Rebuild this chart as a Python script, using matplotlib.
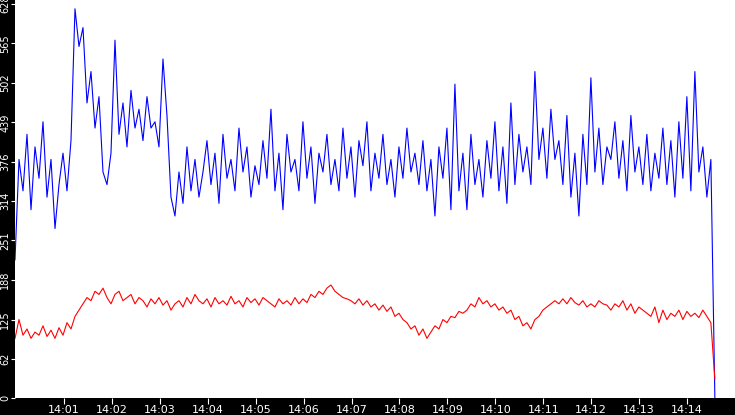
import matplotlib
matplotlib.use("Agg")
import matplotlib.pyplot as plt
import numpy as np

blue = [220, 380, 330, 420, 300, 400, 350, 440, 320, 380, 270, 340, 390, 330, 410, 620,
        560, 590, 470, 520, 430, 480, 360, 340, 390, 570, 420, 470, 400, 490, 430, 460,
        410, 480, 430, 440, 400, 540, 450, 320, 290, 360, 310, 400, 330, 380, 320, 360,
        410, 340, 390, 310, 420, 350, 380, 330, 430, 360, 400, 320, 370, 340, 410, 350,
        460, 330, 390, 300, 420, 360, 380, 330, 440, 350, 400, 310, 390, 360, 420, 340,
        380, 330, 430, 350, 400, 320, 410, 370, 440, 330, 390, 350, 420, 340, 380, 320,
        400, 350, 430, 360, 390, 340, 410, 330, 380, 290, 400, 350, 430, 300, 500, 330,
        390, 300, 420, 340, 380, 320, 410, 350, 440, 330, 400, 310, 470, 340, 420, 360,
        400, 340, 520, 380, 430, 350, 460, 380, 410, 340, 450, 320, 390, 290, 420, 340,
        510, 360, 430, 340, 400, 380, 440, 350, 410, 330, 450, 360, 400, 340, 420, 330,
        390, 350, 430, 340, 410, 320, 440, 350, 480, 330, 520, 360, 400, 320, 380, 0]

red = [95, 125, 100, 110, 95, 105, 100, 115, 98, 108, 95, 112, 100, 120, 110, 130,
       140, 150, 160, 155, 170, 165, 175, 160, 150, 165, 170, 155, 160, 165, 150, 160,
       155, 145, 158, 150, 160, 148, 155, 140, 150, 155, 145, 160, 150, 165, 155, 150,
       158, 145, 160, 150, 155, 148, 162, 150, 155, 145, 160, 152, 158, 148, 160, 155,
       150, 145, 158, 150, 155, 148, 160, 150, 158, 152, 165, 160, 170, 165, 175, 180,
       170, 165, 160, 158, 155, 150, 158, 148, 155, 145, 150, 140, 148, 138, 145, 130,
       135, 125, 120, 110, 115, 100, 110, 95, 105, 115, 110, 125, 120, 130, 128, 138,
       135, 140, 150, 145, 160, 150, 155, 145, 150, 140, 145, 135, 140, 125, 130, 115,
       120, 110, 125, 130, 140, 145, 150, 155, 150, 158, 150, 160, 152, 148, 155, 145,
       150, 145, 155, 150, 148, 140, 150, 145, 155, 140, 150, 135, 145, 140, 135, 130,
       145, 120, 140, 125, 135, 130, 140, 125, 138, 130, 135, 128, 140, 130, 120, 30]

tick_labels = ["14:01", "14:02", "14:03", "14:04", "14:05", "14:06", "14:07",
               "14:08", "14:09", "14:10", "14:11", "14:12", "14:13", "14:14"]
y_ticks = [0, 62, 125, 188, 251, 314, 376, 439, 502, 565, 628]

fig = plt.figure(figsize=(7.35, 4.15), dpi=100, facecolor="black")
ax = fig.add_axes([15/735, 17/415, 720/735, 398/415])
ax.set_facecolor("white")

t0, t1 = -1.02, 13.58
ax.plot(np.linspace(t0, t1, len(blue)), blue, color="#0000ff", lw=0.8)
ax.plot(np.linspace(t0, t1, len(red)), red, color="#ff0000", lw=0.8)

ax.set_xlim(-1.02, 14.0)
ax.set_ylim(0, 634)
ax.set_xticks(range(len(tick_labels)))
ax.set_xticklabels(tick_labels, color="white", fontsize=8)
ax.set_yticks(y_ticks)
ax.set_yticklabels([str(v) for v in y_ticks], color="white", fontsize=7, rotation=90, va="center")
ax.tick_params(axis="x", colors="white", length=4, pad=1)
ax.tick_params(axis="y", colors="white", length=3, pad=0.5)
for s in ax.spines.values():
    s.set_visible(False)
fig.savefig("out.png", dpi=100, facecolor="black")
